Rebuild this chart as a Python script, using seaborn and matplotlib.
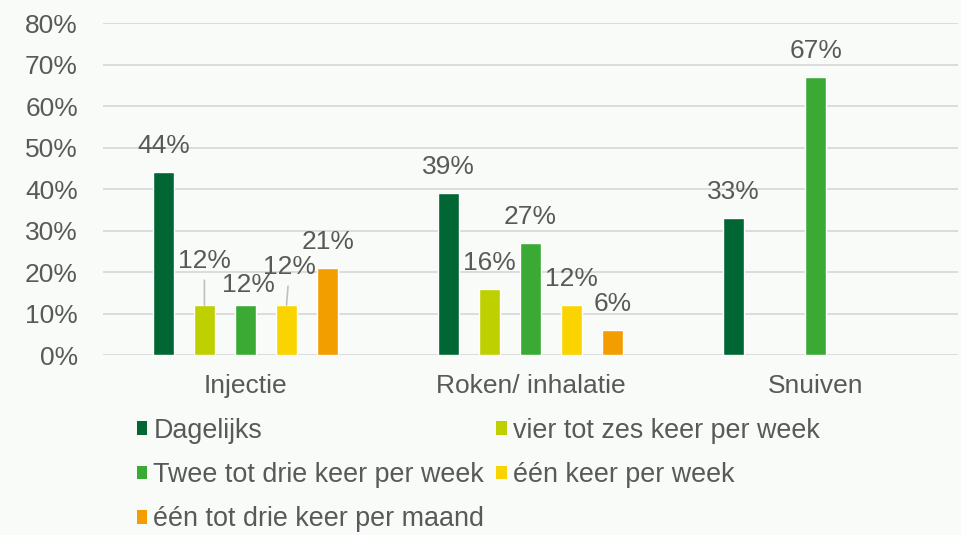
import matplotlib.pyplot as plt
import pandas as pd
import seaborn as sns
from matplotlib.patches import Patch
from matplotlib.ticker import PercentFormatter

# Data
categories = ['Injectie', 'Roken/ inhalatie', 'Snuiven']
series = [
    'Dagelijks',
    'vier tot zes keer per week',
    'Twee tot drie keer per week',
    'één keer per week',
    'één tot drie keer per maand',
]
dagelijks = [44, 39, 33]
vier_tot_zes = [12, 16, None]
twee_tot_drie = [12, 27, 67]
een_per_week = [12, 12, None]
een_per_maand = [21, 6, None]

colors = ['#006633', '#BED000', '#3AAA35', '#FAD400', '#F29D00']
text_color = '#595959'
bg = '#F8FBF8'

# Build long table
rows = []
for name, vals in zip(series, [dagelijks, vier_tot_zes, twee_tot_drie, een_per_week, een_per_maand]):
    for cat, v in zip(categories, vals):
        if v is not None:
            rows.append({'cat': cat, 'serie': name, 'value': v})
df = pd.DataFrame(rows)

sns.set_theme(style='white')
plt.rcParams['font.family'] = ['Liberation Sans', 'DejaVu Sans']

fig = plt.figure(figsize=(9.62, 5.35), dpi=100, facecolor=bg)
ax = fig.add_axes([0.107, 0.3364, 0.889, 0.6206])
ax.set_facecolor(bg)

sns.barplot(
    data=df, x='cat', y='value', hue='serie',
    order=categories, hue_order=series, palette=colors, saturation=1,
    width=0.72, gap=0.5, ax=ax, legend=False, zorder=3,
)

ax.set_ylim(0, 80)
ax.set_xlim(-0.5, 2.5)
ax.set_yticks(range(0, 81, 10))
ax.yaxis.set_major_formatter(PercentFormatter(decimals=0))
ax.yaxis.grid(True, color='#D9D9D9', linewidth=1.3, zorder=0)
ax.set_axisbelow(True)
for s in ax.spines.values():
    s.set_visible(False)
ax.tick_params(axis='y', length=0, pad=18, labelsize=19, labelcolor=text_color)
ax.tick_params(axis='x', length=0, pad=14, labelsize=19, labelcolor=text_color)
ax.set_xlabel('')
ax.set_ylabel('')

# Data labels; a few in the first group are shifted with leader lines
shift = {
    ('Injectie', 1): (0, 44, True),
    ('Injectie', 2): (3, 20, False),
    ('Injectie', 3): (3, 38, True),
}
for hi, cont in enumerate(ax.containers):
    for bar in cont:
        h = bar.get_height()
        if h != h or h == 0:
            continue
        xc = bar.get_x() + bar.get_width() / 2
        ci = int(round(xc))
        dx, dy, lead = shift.get((categories[ci], hi), (0, 26, False))
        ax.annotate(f'{h:.0f}%', (xc, h), xytext=(dx * 0.72, dy * 0.72),
                    textcoords='offset points', ha='center', va='center',
                    fontsize=19, color=text_color, zorder=5)
        if lead:
            ax.annotate('', (xc, h), xytext=(dx * 0.72 * 0.5, (dy - 19) * 0.72),
                        textcoords='offset points',
                        arrowprops=dict(arrowstyle='-', color='#BFBFBF', lw=1.2,
                                        shrinkA=0, shrinkB=0))

# Legend, row-major order in two columns
handles = [Patch(facecolor=c, edgecolor='none') for c in colors]
order = [0, 2, 4, 1, 3]
fig.legend([handles[i] for i in order], [series[i] for i in order],
           loc='upper left', bbox_to_anchor=(0.142, 0.219), ncol=2,
           frameon=False, fontsize=19.4, labelcolor=text_color,
           handlelength=0.4, handleheight=0.4, handletextpad=0.22,
           columnspacing=0.45, labelspacing=0.68, borderpad=0, borderaxespad=0)

fig.savefig('out.png', dpi=100, facecolor=bg)
